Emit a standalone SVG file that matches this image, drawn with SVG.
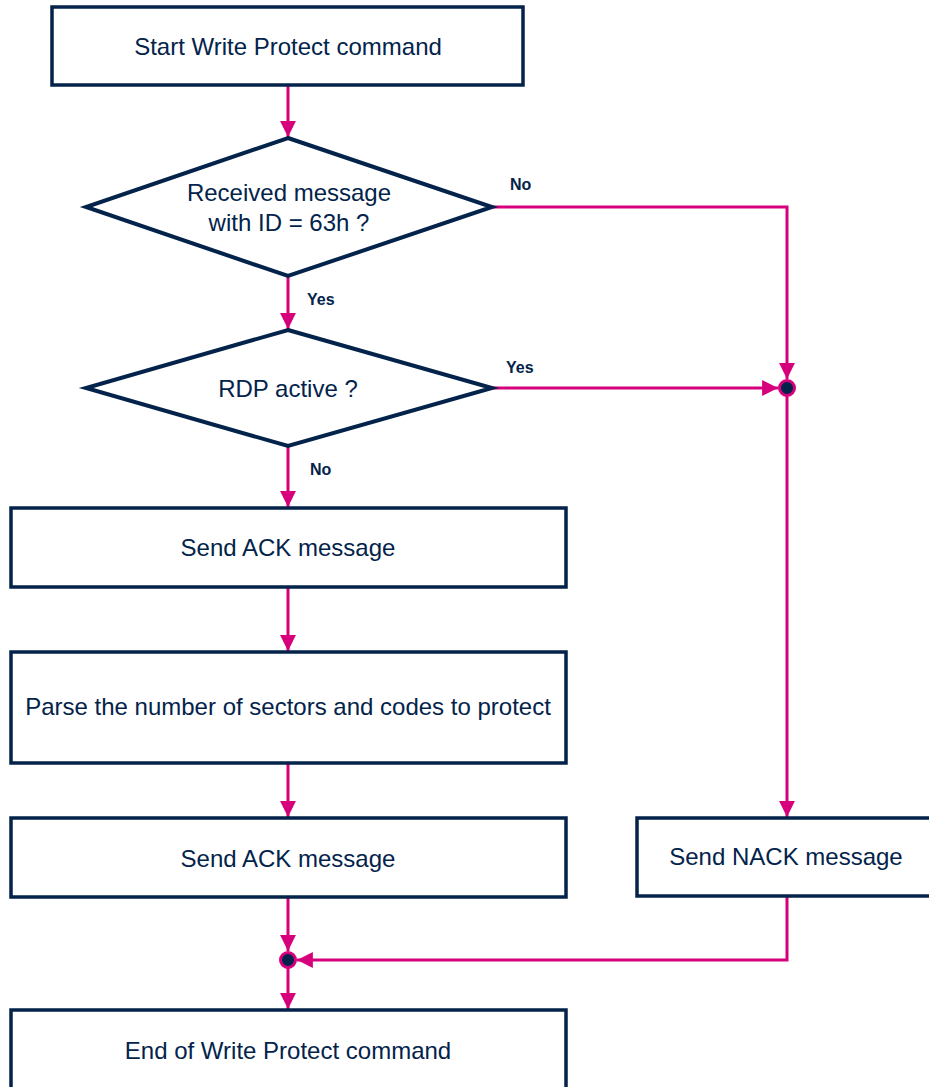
<svg xmlns="http://www.w3.org/2000/svg" width="929" height="1087" viewBox="0 0 929 1087">
<style>
.box{fill:#fff;stroke:#03234B;stroke-width:3.5}
.dia{fill:#fff;stroke:#03234B;stroke-width:4}
.t{font-family:"Liberation Sans",Arial,sans-serif;font-size:24px;fill:#03234B;text-anchor:middle;dominant-baseline:central}
.l{font-family:"Liberation Sans",Arial,sans-serif;font-size:16px;font-weight:bold;fill:#03234B}
.c{fill:none;stroke:#D6007D;stroke-width:3}
.j{fill:#03234B;stroke:#D6007D;stroke-width:3}
</style>
<defs>
<marker id="ah" viewBox="0 0 10 10" refX="10" refY="5" markerWidth="5.3" markerHeight="5.3" markerUnits="strokeWidth" orient="auto">
<path d="M0,0 L10,5 L0,10 z" fill="#D6007D"/>
</marker>
</defs>
<rect width="929" height="1087" fill="#fff"/>
<g id="connectors">
<path class="c" d="M288,85 V137" marker-end="url(#ah)"/>
<path class="c" d="M492,207 H787 V379" marker-end="url(#ah)"/>
<path class="c" d="M288,276 V329" marker-end="url(#ah)"/>
<path class="c" d="M492,388 H778" marker-end="url(#ah)"/>
<path class="c" d="M787,396 V817" marker-end="url(#ah)"/>
<path class="c" d="M288,446 V507" marker-end="url(#ah)"/>
<path class="c" d="M288,587 V651" marker-end="url(#ah)"/>
<path class="c" d="M288,763 V817" marker-end="url(#ah)"/>
<path class="c" d="M288,897 V951" marker-end="url(#ah)"/>
<path class="c" d="M787,896 V960 H297" marker-end="url(#ah)"/>
<path class="c" d="M288,968 V1009" marker-end="url(#ah)"/>
<text class="l" x="510" y="190">No</text>
<text class="l" x="307" y="305">Yes</text>
<text class="l" x="506" y="373">Yes</text>
<text class="l" x="310" y="475">No</text>
</g>
<g id="start"><rect class="box" x="52" y="7" width="471" height="78"/><text class="t" x="288" y="46">Start Write Protect command</text></g>
<g id="dec1"><polygon class="dia" points="288,138 492,207 288,276 86,207"/><text class="t" x="289" y="192">Received message</text><text class="t" x="289" y="222">with ID = 63h ?</text></g>
<g id="dec2"><polygon class="dia" points="288,330 492,388 288,446 86,388"/><text class="t" x="288" y="388">RDP active ?</text></g>
<g id="ack1"><rect class="box" x="11" y="508" width="555" height="79"/><text class="t" x="288" y="547">Send ACK message</text></g>
<g id="parse"><rect class="box" x="11" y="652" width="555" height="111"/><text class="t" x="288" y="706">Parse the number of sectors and codes to protect</text></g>
<g id="ack2"><rect class="box" x="11" y="818" width="555" height="79"/><text class="t" x="288" y="858">Send ACK message</text></g>
<g id="nack"><rect class="box" x="637" y="818" width="300" height="78"/><text class="t" x="786" y="856">Send NACK message</text></g>
<g id="end"><rect class="box" x="11" y="1010" width="555" height="90"/><text class="t" x="288" y="1050">End of Write Protect command</text></g>
<g id="junction1"><circle class="j" cx="787" cy="388" r="7.5"/></g>
<g id="junction2"><circle class="j" cx="288" cy="960" r="7.5"/></g>
</svg>
